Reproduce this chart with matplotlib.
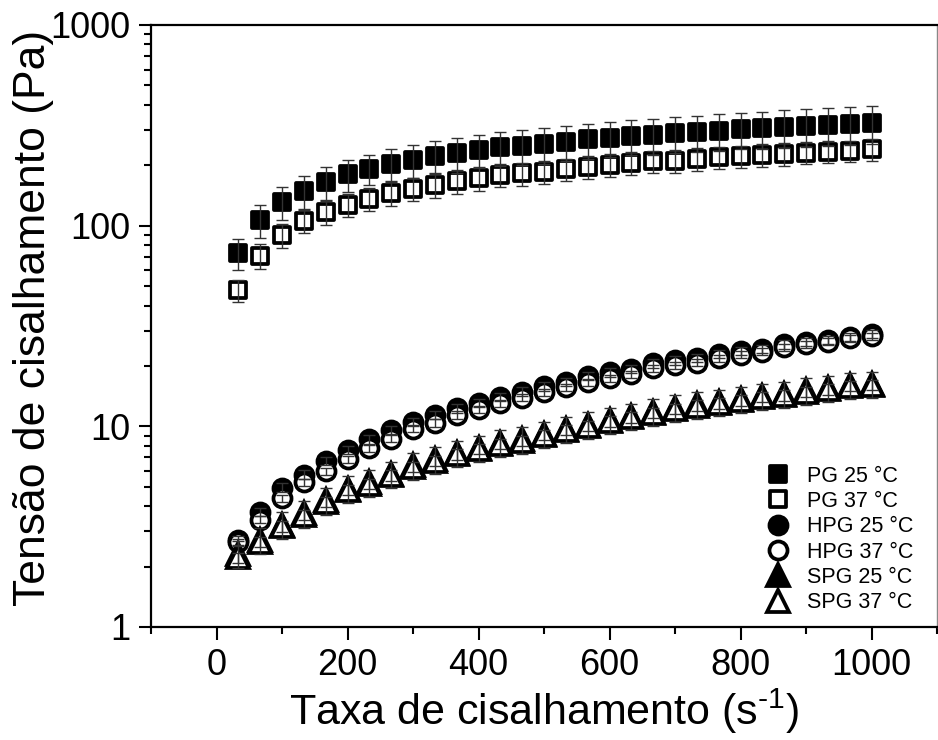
import matplotlib
matplotlib.use("Agg")
import matplotlib.pyplot as plt
from matplotlib.markers import MarkerStyle
from matplotlib.ticker import FixedLocator, FuncFormatter, LogLocator, NullFormatter, MultipleLocator

plt.rcParams['font.family'] = ['Liberation Sans', 'DejaVu Sans']
plt.rcParams['mathtext.fontset'] = 'custom'
plt.rcParams['mathtext.rm'] = 'Liberation Sans'
plt.rcParams['mathtext.it'] = 'Liberation Sans:italic'

# ---------------- data ----------------
shear_rate = [33.3, 66.7, 100.0, 133.3, 166.7, 200.0, 233.3, 266.7, 300.0, 333.3,
              366.7, 400.0, 433.3, 466.7, 500.0, 533.3, 566.7, 600.0, 633.3, 666.7,
              700.0, 733.3, 766.7, 800.0, 833.3, 866.7, 900.0, 933.3, 966.7, 1000.0]

pg25 = [73, 107, 131, 149, 165, 180, 192, 203, 212, 222, 229, 238, 246, 250, 255,
        262, 269, 274, 280, 283, 289, 294, 297, 302, 305, 309, 314, 317, 321, 324]
pg25_err = [13, 20, 24, 28, 30, 32, 33, 37, 40, 42, 45, 45, 48, 50, 52,
            52, 53, 54, 55, 58, 59, 60, 62, 62, 64, 66, 67, 68, 69, 70]

pg37 = [47.8, 70.6, 89.8, 105.5, 117, 127, 136, 145, 152, 160, 166, 172, 179, 182, 186,
        191, 197, 201, 205, 209, 211, 215, 219, 222, 225, 228, 231, 234, 236, 240]
pg37_err = [6, 10, 12, 14, 16, 17, 18, 20, 20, 22, 23, 23, 24, 24, 25,
            25, 26, 26, 27, 27, 27, 28, 28, 28, 29, 29, 29, 29, 29, 29]

hpg25 = [2.70, 3.75, 4.95, 5.75, 6.70, 7.65, 8.60, 9.60, 10.5, 11.4, 12.3, 13.1, 14.0, 14.9, 15.8,
         16.7, 17.8, 18.6, 19.3, 20.6, 21.3, 21.9, 22.9, 23.8, 24.4, 25.6, 26.3, 27.0, 28.0, 28.9]
hpg25_err = [0.13, 0.18, 0.24, 0.28, 0.32, 0.37, 0.42, 0.46, 0.50, 0.55, 0.59, 0.63, 0.67, 0.72, 0.76,
             0.80, 0.85, 0.89, 0.93, 0.99, 1.02, 1.05, 1.10, 1.14, 1.17, 1.23, 1.26, 1.30, 1.34, 1.39]

hpg37 = [2.65, 3.42, 4.38, 5.25, 5.98, 6.85, 7.77, 8.66, 9.72, 10.4, 11.4, 12.2, 13.0, 13.9, 14.8,
         15.7, 16.6, 17.4, 18.2, 19.5, 20.2, 20.8, 21.9, 22.8, 23.5, 24.8, 25.6, 26.4, 27.4, 28.2]
hpg37_err = [0.11, 0.14, 0.18, 0.21, 0.24, 0.27, 0.31, 0.35, 0.39, 0.42, 0.46, 0.49, 0.52, 0.56, 0.59,
             0.63, 0.66, 0.70, 0.73, 0.78, 0.81, 0.83, 0.88, 0.91, 0.94, 0.99, 1.02, 1.06, 1.10, 1.13]

spg25 = [2.32, 2.72, 3.24, 3.68, 4.27, 4.90, 5.25, 5.78, 6.38, 6.84, 7.35, 7.82, 8.30, 8.60, 9.18,
         9.72, 10.2, 10.75, 11.25, 11.85, 12.4, 12.85, 13.2, 13.7, 14.2, 14.5, 15.1, 15.5, 16.1, 16.3]
spg25_err = [0.35, 0.41, 0.49, 0.55, 0.64, 0.74, 0.79, 0.87, 0.96, 1.03, 1.10, 1.17, 1.25, 1.29, 1.38,
             1.46, 1.53, 1.61, 1.69, 1.78, 1.86, 1.93, 1.98, 2.06, 2.13, 2.18, 2.27, 2.33, 2.42, 2.45]

spg37 = [2.22, 2.66, 3.18, 3.62, 4.20, 4.82, 5.16, 5.69, 6.29, 6.74, 7.25, 7.71, 8.19, 8.48, 9.05,
         9.59, 10.07, 10.6, 11.1, 11.7, 12.25, 12.7, 13.0, 13.5, 14.0, 14.3, 14.9, 15.3, 15.9, 16.1]
spg37_err = [0.13, 0.16, 0.19, 0.22, 0.25, 0.29, 0.31, 0.34, 0.38, 0.40, 0.44, 0.46, 0.49, 0.51, 0.54,
             0.58, 0.60, 0.64, 0.67, 0.70, 0.74, 0.76, 0.78, 0.81, 0.84, 0.86, 0.89, 0.92, 0.95, 0.97]

labels = ['PG 25 °C', 'PG 37 °C', 'HPG 25 °C', 'HPG 37 °C', 'SPG 25 °C', 'SPG 37 °C']
x_ticks = [0, 200, 400, 600, 800, 1000]
y_ticks = [1, 10, 100, 1000]

# ---------------- figure ----------------
fig = plt.figure(figsize=(9.38, 7.40), dpi=100)
ax = fig.add_axes([151 / 938, 1 - 627 / 740, (937 - 151) / 938, 602 / 740])

series = [
    (pg25, pg25_err, MarkerStyle('s', joinstyle='round'), 'black', 11.5),
    (pg37, pg37_err, MarkerStyle('s', joinstyle='round'), 'white', 11.5),
    (hpg25, hpg25_err, 'o', 'black', 13),
    (hpg37, hpg37_err, 'o', 'white', 13),
    (spg25, spg25_err, '^', 'black', 15.5),
    (spg37, spg37_err, '^', 'white', 15.5),
]

handles = []
for i, (vals, err, mk, fc, ms) in enumerate(series):
    h, = ax.plot(shear_rate, vals, linestyle='none', marker=mk, markersize=ms,
                 markerfacecolor=fc, markeredgecolor='black', markeredgewidth=2.7,
                 label=labels[i], zorder=3 + i)
    handles.append(h)

for i, (vals, err, mk, fc, ms) in enumerate(series):
    ax.errorbar(shear_rate, vals, yerr=err, fmt='none', ecolor='#333333',
                elinewidth=1.0, capsize=4, capthick=1.0, zorder=12)

ax.set_yscale('log')
ax.set_ylim(1, 1000)
ax.set_xlim(-100, 1100)

ax.xaxis.set_major_locator(FixedLocator(x_ticks))
ax.xaxis.set_minor_locator(MultipleLocator(100))
ax.yaxis.set_major_locator(FixedLocator(y_ticks))
ax.yaxis.set_minor_locator(LogLocator(base=10, subs=range(2, 10)))
ax.yaxis.set_minor_formatter(NullFormatter())
ax.yaxis.set_major_formatter(FuncFormatter(lambda v, p: f'{int(round(v))}'))

ax.tick_params(axis='both', which='major', direction='out', length=9, width=1.5,
               labelsize=26, top=False, right=False)
ax.tick_params(axis='both', which='minor', direction='out', length=5, width=1.5,
               top=False, right=False)
ax.tick_params(axis='x', which='major', pad=6)
ax.tick_params(axis='y', which='major', pad=6)

for s in ['left', 'bottom', 'top']:
    ax.spines[s].set_linewidth(1.6)
ax.spines['right'].set_linewidth(1.0)
ax.spines['right'].set_color('#888888')

ax.set_xlabel(r'Taxa de cisalhamento (s$^{\text{-1}}$)', fontsize=31, labelpad=3)
ax.set_ylabel('Tensão de cisalhamento (Pa)', fontsize=32)
ax.yaxis.set_label_coords(-0.123, 0.513)

leg = ax.legend(handles=handles, loc='upper left', bbox_to_anchor=(0.784, 0.268),
                frameon=False, fontsize=15.5, handlelength=1.0, handletextpad=0.85,
                labelspacing=0.2, borderpad=0, borderaxespad=0, markerscale=1.0)

fig.savefig('out.png', dpi=100)
